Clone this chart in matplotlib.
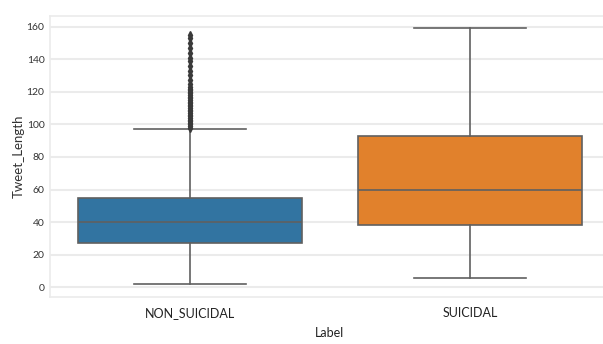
import matplotlib
matplotlib.use("Agg")
import matplotlib.pyplot as plt

# data
labels = ["NON_SUICIDAL", "SUICIDAL"]
q1 = [27, 38]
median = [40, 60]
q3 = [55, 93]
whisker_low = [2, 6]
whisker_high = [97, 159]
fliers_non = [98, 99, 100, 101, 102, 103, 104, 105, 106, 107, 108, 109, 110,
              111, 112, 113, 114, 115, 116, 117, 118, 119, 120, 121, 122, 123,
              125, 127, 130, 133, 136, 139, 141, 144, 147, 150, 153, 155]
fliers_sui = []
box_colors = ["#3274a1", "#e1812c"]

plt.rcParams["font.family"] = ["Lato", "DejaVu Sans"]

fig = plt.figure(figsize=(6.03, 3.44), dpi=100)
ax = fig.add_axes([50 / 603, 47 / 344, 560 / 603, 281 / 344])

stats = []
for i in range(len(labels)):
    stats.append({
        "label": labels[i],
        "q1": q1[i],
        "med": median[i],
        "q3": q3[i],
        "whislo": whisker_low[i],
        "whishi": whisker_high[i],
        "fliers": [fliers_non, fliers_sui][i],
    })

line = "#606060"
bp = ax.bxp(stats, positions=[0, 1], widths=0.8, patch_artist=True,
            boxprops=dict(edgecolor=line, linewidth=1.2),
            medianprops=dict(color=line, linewidth=1.2),
            whiskerprops=dict(color=line, linewidth=1.2),
            capprops=dict(color=line, linewidth=1.2),
            flierprops=dict(marker="d", markersize=4, markerfacecolor="#3a3a3a",
                            markeredgecolor="#3a3a3a", linestyle="none"))
for patch, c in zip(bp["boxes"], box_colors):
    patch.set_facecolor(c)

ax.set_xlim(-0.5, 1.5)
ax.set_ylim(-5.9, 166.5)
ax.set_yticks(range(0, 161, 20))
ax.yaxis.grid(True, color="#ebebeb", linewidth=1.5)
ax.set_axisbelow(True)
for s in ax.spines.values():
    s.set_color("#ebebeb")
    s.set_linewidth(1.2)
ax.tick_params(length=0, labelsize=7.5, colors="#333333")
ax.tick_params(axis="y", pad=4)
ax.tick_params(axis="x", labelsize=9, pad=7, colors="#222222")
ax.set_xlabel("Label", fontsize=9, color="#222222", labelpad=6)
ax.set_ylabel("Tweet_Length", fontsize=9.5, color="#333333", labelpad=1.5)

fig.savefig("out.png", dpi=100)
plt.close(fig)
